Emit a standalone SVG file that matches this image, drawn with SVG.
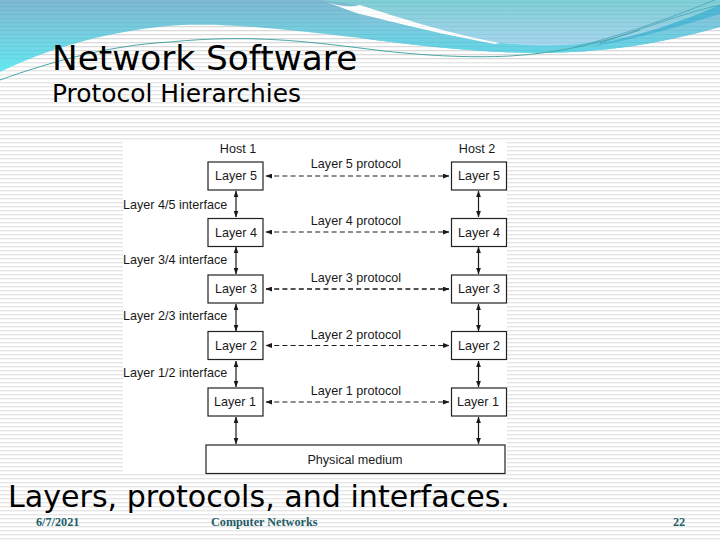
<svg xmlns="http://www.w3.org/2000/svg" width="720" height="540" viewBox="0 0 720 540">
<style>
.d{font-family:"Liberation Sans",Arial,sans-serif;font-size:12.6px;fill:#1a1a1a}
.m{text-anchor:middle}
.t{font-family:"DejaVu Sans",Verdana,sans-serif;fill:#000}
.f{font-family:"Liberation Serif",serif;font-size:12.2px;fill:#1f5d69;font-weight:bold}
.b{fill:#fff;stroke:#222;stroke-width:1.2}
.a{stroke:#1a1a1a;stroke-width:1;fill:none;marker-start:url(#h);marker-end:url(#h)}
.p{stroke-dasharray:5 3.2}
.a3{stroke-width:1.5}
.v{stroke-width:1.2}
</style>
<defs>
<marker id="h" viewBox="0 0 8 6" refX="7.5" refY="3" markerWidth="6.500" markerHeight="5" markerUnits="userSpaceOnUse" orient="auto-start-reverse"><path d="M0 0L8 3L0 6z" fill="#1a1a1a"/></marker>
<linearGradient id="g" gradientUnits="userSpaceOnUse" x1="0" y1="0" x2="0" y2="75"><stop offset="0" stop-color="#7fb9d2"/><stop offset=".45" stop-color="#75cfe0"/><stop offset="1" stop-color="#62eaf2"/></linearGradient>
<linearGradient id="g2" x1="0" y1="0" x2="0" y2="1"><stop offset="0" stop-color="#80cfd6"/><stop offset="1" stop-color="#a6d6ef"/></linearGradient>
<linearGradient id="g3" x1="0" y1="0" x2="0" y2="1"><stop offset="0" stop-color="#86c4dc"/><stop offset="1" stop-color="#62d6e6"/></linearGradient>
<pattern id="s" width="4" height="4" patternUnits="userSpaceOnUse"><rect y="2" width="4" height="1.4" fill="#e6e6e6"/></pattern>
<pattern id="s2" width="4" height="4" patternUnits="userSpaceOnUse"><rect y="2" width="4" height="1" fill="#000" fill-opacity=".05"/></pattern>
</defs>
<rect id="background" width="720" height="540" fill="#fff"/>
<rect width="720" height="540" fill="url(#s)"/>
<g id="waves">
<path d="M0 72C45 50 100 33 167 26C210 22 270 27 360 38C420 46 480 53 540 53C600 53 660 44 720 27V0H0z" fill="url(#g)"/>
<path d="M320 0H720V6C680 22 640 38 600 43C570 47 530 46 500 43C450 34 400 18 360 5z" fill="url(#g2)"/>
<path d="M360 14C420 32 480 44 540 46C600 46 660 30 720 14V27C660 44 600 53 540 53C480 53 420 46 360 38z" fill="url(#g3)"/>
<path d="M320 0C335 5 347 8 360 5V14C345 9 335 5 320 0z" fill="#fff"/>
<path d="M360 5C400 18 450 34 500 43L495 44C450 36 400 24 360 14z" fill="#fff"/>
<path d="M590 46C640 36 680 22 720 5V14C680 26 640 38 600 45z" fill="#4fb9d6"/>
<path d="M575 47C625 35 680 14 715 0M600 43C640 30 680 14 720 5" fill="none" stroke="#3c9fb8" stroke-width=".7"/>
<path d="M0 80C50 62 110 45 170 42C250 34 310 42 360 48C420 56 470 58 510 56C560 53 600 43 640 30" fill="none" stroke="#4ca8aa" stroke-width="1"/>
<rect width="720" height="60" fill="url(#s2)"/>
</g>
<rect id="figure" x="123" y="142" width="384" height="332" fill="#fff"/>
<text class="t" x="52" y="70" font-size="34.300">Network Software</text>
<text class="t" x="52" y="102" font-size="24.900">Protocol Hierarchies</text>
<text class="d m" x="238" y="153">Host 1</text>
<text class="d m" x="477" y="153">Host 2</text>
<g class="d">
<text x="123" y="209">Layer 4/5 interface</text>
<text x="123" y="264">Layer 3/4 interface</text>
<text x="123" y="320">Layer 2/3 interface</text>
<text x="123" y="377">Layer 1/2 interface</text>
</g>
<g class="d m">
<text x="356" y="168">Layer 5 protocol</text>
<text x="356" y="225">Layer 4 protocol</text>
<text x="356" y="282">Layer 3 protocol</text>
<text x="356" y="339">Layer 2 protocol</text>
<text x="356" y="395">Layer 1 protocol</text>
</g>
<g id="connectors">
<path class="a p" d="M266 176H449"/>
<path class="a p" d="M266 232H449"/>
<path class="a p a3" d="M266 289H449"/>
<path class="a p" d="M266 345.5H449"/>
<path class="a p" d="M266 402H449"/>
<path class="a v" d="M236 191V217"/><path class="a v" d="M236 247V274"/><path class="a v" d="M236 304V331"/><path class="a v" d="M236 361V387"/><path class="a v" d="M236 417V444"/>
<path class="a v" d="M478.500 191V217"/><path class="a v" d="M478.500 247V274"/><path class="a v" d="M478.500 304V331"/><path class="a v" d="M478.500 361V387"/><path class="a v" d="M478.500 417V444"/>
</g>
<g id="h1-l5"><rect class="b" x="208" y="162" width="55" height="28"/><text class="d m" x="236" y="180">Layer 5</text></g>
<g id="h1-l4"><rect class="b" x="208" y="218.500" width="55" height="28"/><text class="d m" x="236" y="236.500">Layer 4</text></g>
<g id="h1-l3"><rect class="b" x="208" y="275" width="55" height="28"/><text class="d m" x="236" y="293">Layer 3</text></g>
<g id="h1-l2"><rect class="b" x="208" y="331.500" width="55" height="28"/><text class="d m" x="236" y="349.500">Layer 2</text></g>
<g id="h1-l1"><rect class="b" x="208" y="388" width="55" height="28"/><text class="d m" x="235" y="406">Layer 1</text></g>
<g id="h2-l5"><rect class="b" x="451.500" y="162" width="55" height="28"/><text class="d m" x="479" y="180">Layer 5</text></g>
<g id="h2-l4"><rect class="b" x="451.500" y="218.500" width="55" height="28"/><text class="d m" x="479" y="236.500">Layer 4</text></g>
<g id="h2-l3"><rect class="b" x="451.500" y="275" width="55" height="28"/><text class="d m" x="479" y="293">Layer 3</text></g>
<g id="h2-l2"><rect class="b" x="451.500" y="331.500" width="55" height="28"/><text class="d m" x="479" y="349.500">Layer 2</text></g>
<g id="h2-l1"><rect class="b" x="451.500" y="388" width="55" height="28"/><text class="d m" x="478" y="406">Layer 1</text></g>
<g id="medium"><rect class="b" x="206" y="445" width="299" height="28.500"/><text class="d m" x="355" y="464">Physical medium</text></g>
<text class="t" x="8" y="507" font-size="30.100">Layers, protocols, and interfaces.</text>
<text class="f" x="36" y="526">6/7/2021</text>
<text class="f" x="211" y="526">Computer Networks</text>
<text class="f" x="673" y="526">22</text>
</svg>
